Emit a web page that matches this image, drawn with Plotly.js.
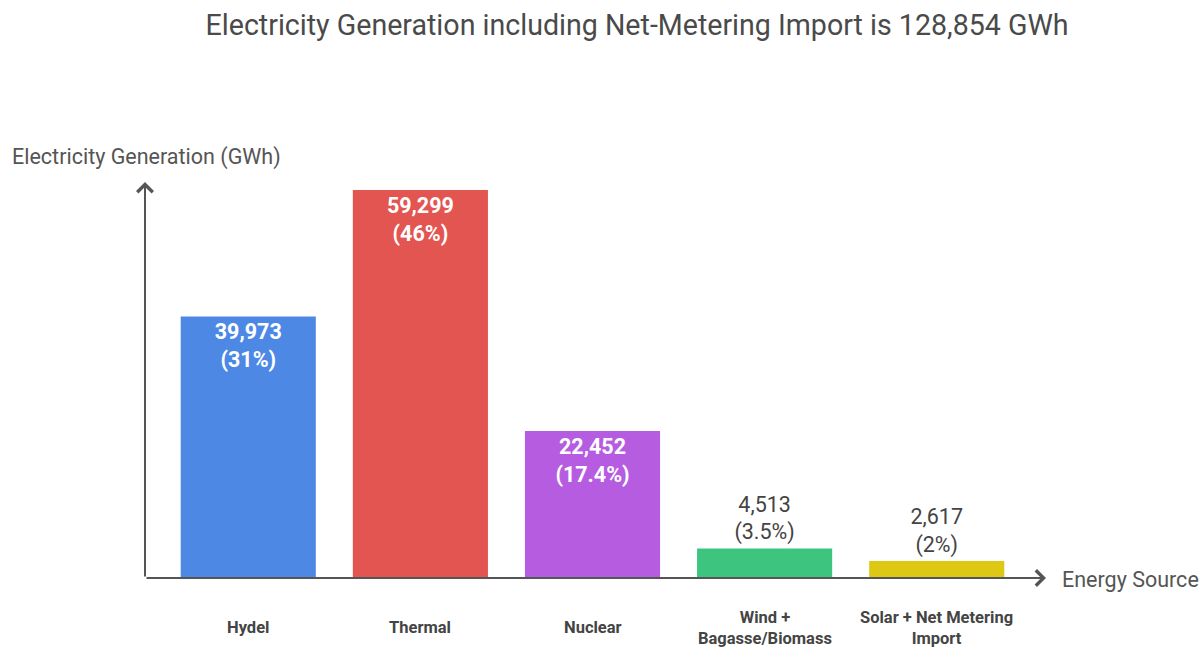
<!DOCTYPE html>
<html>
<head>
<meta charset="utf-8">
<script src="https://cdn.plot.ly/plotly-3.0.1.min.js"></script>
<style>
  html, body { margin: 0; padding: 0; background: #ffffff; }
  #chart { width: 1202px; height: 648px; }
</style>
</head>
<body>
<div id="chart"></div>
<script>
// Electricity generation by source (GWh) and share of the total
const sources = ['Hydel', 'Thermal', 'Nuclear', 'Wind + Bagasse/Biomass', 'Solar + Net Metering Import'];
const sourceLabels = ['Hydel', 'Thermal', 'Nuclear', 'Wind +<br>Bagasse/Biomass', 'Solar + Net Metering<br>Import'];
const generationGWh = [39973, 59299, 22452, 4513, 2617];
const sharePct = [31, 46, 17.4, 3.5, 2];
const barColors = ['#4e88e5', '#e25551', '#b65ce0', '#3dc47e', '#ddc814'];
const labelPlacement = ['inside', 'inside', 'inside', 'outside', 'outside'];

const FONT = 'Roboto, "Noto Sans", sans-serif';
const AXIS_GREY = '#555555';

const barText = generationGWh.map((v, i) =>
  v.toLocaleString('en-US') + '<br>(' + sharePct[i] + '%)');

const bars = {
  type: 'bar',
  x: sources,
  y: generationGWh,
  marker: { color: barColors, line: { width: 0 } },
  text: barText,
  textposition: labelPlacement,
  insidetextanchor: 'end',
  textangle: 0,
  constraintext: 'none',
  insidetextfont: { family: FONT, size: 21.5, color: '#ffffff', weight: 'bold' },
  outsidetextfont: { family: FONT, size: 21.5, color: '#444444', weight: 'normal' },
  hoverinfo: 'skip',
  cliponaxis: false
};

// category names under the baseline, centred on each bar
const categoryNotes = sources.map((s, i) => ({
  xref: 'x', yref: 'paper',
  x: s, y: -0.125,
  xanchor: 'center', yanchor: 'middle',
  text: sourceLabels[i],
  showarrow: false,
  font: { family: FONT, size: 16.5, color: '#444444', weight: 'bold' }
}));

const axisNotes = [
  // horizontal axis with open arrowhead
  {
    xref: 'paper', yref: 'paper', x: 1.0067, y: 0,
    ax: -901, ay: 0, axref: 'pixel', ayref: 'pixel',
    showarrow: true, arrowhead: 4, arrowsize: 1.5, arrowwidth: 2,
    arrowcolor: AXIS_GREY, standoff: 0, startstandoff: 0, text: ''
  },
  // vertical axis with open arrowhead
  {
    xref: 'paper', yref: 'paper', x: 0, y: 1,
    ax: 0, ay: 396, axref: 'pixel', ayref: 'pixel',
    showarrow: true, arrowhead: 4, arrowsize: 1.5, arrowwidth: 2,
    arrowcolor: AXIS_GREY, standoff: 0, startstandoff: 0, text: ''
  },
  {
    xref: 'paper', yref: 'paper', x: -0.1508, y: 1.063,
    xanchor: 'left', yanchor: 'middle', showarrow: false,
    text: 'Electricity Generation (GWh)',
    font: { family: FONT, size: 21.5, color: AXIS_GREY }
  },
  {
    xref: 'paper', yref: 'paper', x: 1.0223, y: -0.005,
    xanchor: 'left', yanchor: 'middle', showarrow: false,
    text: 'Energy Source',
    font: { family: FONT, size: 21.5, color: AXIS_GREY }
  }
];

const layout = {
  width: 1202,
  height: 648,
  margin: { l: 145, r: 162, t: 182, b: 70 },
  paper_bgcolor: '#ffffff',
  plot_bgcolor: '#ffffff',
  showlegend: false,
  bargap: 0.215,
  title: {
    text: 'Electricity Generation including Net-Metering Import is 128,854 GWh',
    font: { family: FONT, size: 28.6, color: '#4a4a4a' },
    x: 0.53, xanchor: 'center',
    y: 0.962, yanchor: 'middle', yref: 'container'
  },
  xaxis: {
    type: 'category',
    range: [-0.6, 4.6],
    showticklabels: false, showgrid: false, zeroline: false, showline: false,
    ticks: '', fixedrange: true
  },
  yaxis: {
    range: [0, 60520],
    showticklabels: false, showgrid: false, zeroline: false, showline: false,
    ticks: '', fixedrange: true
  },
  annotations: axisNotes.concat(categoryNotes)
};

Plotly.newPlot('chart', [bars], layout, { displayModeBar: false, staticPlot: true });
</script>
</body>
</html>
